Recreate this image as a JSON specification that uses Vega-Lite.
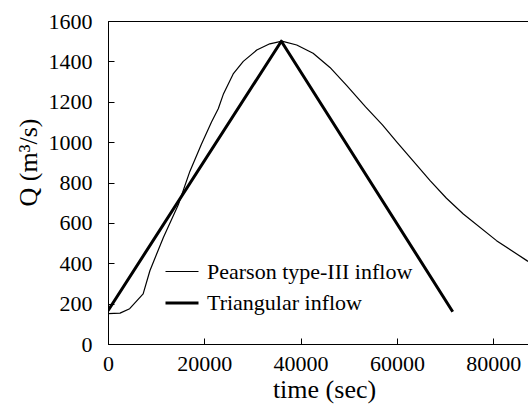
{
  "$schema": "https://vega.github.io/schema/vega-lite/v6.json",
  "autosize": {"type": "none"},
  "padding": {"left": 108, "top": 21, "right": 0, "bottom": 71},
  "width": 422,
  "height": 323,
  "background": "white",
  "config": {
    "font": "Liberation Serif",
    "view": {"stroke": "black", "strokeWidth": 1}
  },
  "data": {
    "values": [
      {"series": "Pearson type-III inflow", "t": 0, "Q": 150},
      {"series": "Pearson type-III inflow", "t": 2500, "Q": 153},
      {"series": "Pearson type-III inflow", "t": 4500, "Q": 175},
      {"series": "Pearson type-III inflow", "t": 7300, "Q": 248},
      {"series": "Pearson type-III inflow", "t": 8700, "Q": 363},
      {"series": "Pearson type-III inflow", "t": 11500, "Q": 528},
      {"series": "Pearson type-III inflow", "t": 14600, "Q": 690},
      {"series": "Pearson type-III inflow", "t": 17000, "Q": 855},
      {"series": "Pearson type-III inflow", "t": 19400, "Q": 990},
      {"series": "Pearson type-III inflow", "t": 21500, "Q": 1100},
      {"series": "Pearson type-III inflow", "t": 22900, "Q": 1165},
      {"series": "Pearson type-III inflow", "t": 24000, "Q": 1240},
      {"series": "Pearson type-III inflow", "t": 26000, "Q": 1338},
      {"series": "Pearson type-III inflow", "t": 28100, "Q": 1400},
      {"series": "Pearson type-III inflow", "t": 30900, "Q": 1456},
      {"series": "Pearson type-III inflow", "t": 33600, "Q": 1487},
      {"series": "Pearson type-III inflow", "t": 35700, "Q": 1498},
      {"series": "Pearson type-III inflow", "t": 36100, "Q": 1500},
      {"series": "Pearson type-III inflow", "t": 39200, "Q": 1481},
      {"series": "Pearson type-III inflow", "t": 42600, "Q": 1440},
      {"series": "Pearson type-III inflow", "t": 46100, "Q": 1370},
      {"series": "Pearson type-III inflow", "t": 49600, "Q": 1280},
      {"series": "Pearson type-III inflow", "t": 53500, "Q": 1175},
      {"series": "Pearson type-III inflow", "t": 57000, "Q": 1085},
      {"series": "Pearson type-III inflow", "t": 60000, "Q": 1000},
      {"series": "Pearson type-III inflow", "t": 63500, "Q": 903},
      {"series": "Pearson type-III inflow", "t": 66900, "Q": 809},
      {"series": "Pearson type-III inflow", "t": 70300, "Q": 722},
      {"series": "Pearson type-III inflow", "t": 73800, "Q": 644},
      {"series": "Pearson type-III inflow", "t": 80700, "Q": 512},
      {"series": "Pearson type-III inflow", "t": 87000, "Q": 413},
      {"series": "Pearson type-III inflow", "t": 90000, "Q": 375},
      {"series": "Triangular inflow", "t": 0, "Q": 165},
      {"series": "Triangular inflow", "t": 36000, "Q": 1500},
      {"series": "Triangular inflow", "t": 71600, "Q": 160}
    ]
  },
  "mark": {"type": "line", "color": "black", "clip": true, "strokeJoin": "round"},
  "encoding": {
    "x": {
      "field": "t", "type": "quantitative",
      "scale": {"domain": [0, 87650], "nice": false, "zero": false},
      "axis": {
        "title": "time (sec)", "values": [0, 20000, 40000, 60000, 80000],
        "format": "d", "grid": false,
        "domainColor": "black", "tickColor": "black", "tickSize": -6, "tickWidth": 1,
        "labelFont": "Liberation Serif",
        "labelFontSize": 22, "labelColor": "black", "labelPadding": 15, "labelFlush": false,
        "titleFont": "Liberation Serif",
        "titleFontSize": 26, "titleFontWeight": "normal", "titleColor": "black",
        "titleX": 216, "titleY": 45, "titleBaseline": "middle"
      }
    },
    "y": {
      "field": "Q", "type": "quantitative",
      "scale": {"domain": [0, 1600], "nice": false},
      "axis": {
        "title": "Q (m³/s)", "values": [0, 200, 400, 600, 800, 1000, 1200, 1400, 1600],
        "format": "d", "grid": false,
        "domainColor": "black", "tickColor": "black", "tickSize": -6, "tickWidth": 1,
        "labelFont": "Liberation Serif",
        "labelFontSize": 22, "labelColor": "black", "labelPadding": 22,
        "titleFont": "Liberation Serif",
        "titleFontSize": 26, "titleFontWeight": "normal", "titleColor": "black",
        "titleX": -80, "titleY": 141, "titleBaseline": "middle", "titleAngle": -90
      }
    },
    "strokeWidth": {
      "field": "series", "type": "nominal",
      "scale": {"domain": ["Pearson type-III inflow", "Triangular inflow"], "range": [1.2, 3]},
      "legend": {
        "title": null, "orient": "none", "legendX": 56, "legendY": 233,
        "symbolType": "stroke", "symbolStrokeColor": "black", "symbolSize": 1089,
        "labelFont": "Liberation Serif", "labelLimit": 400,
        "labelFontSize": 22, "labelColor": "black", "labelOffset": 7, "rowPadding": 2
      }
    }
  }
}
